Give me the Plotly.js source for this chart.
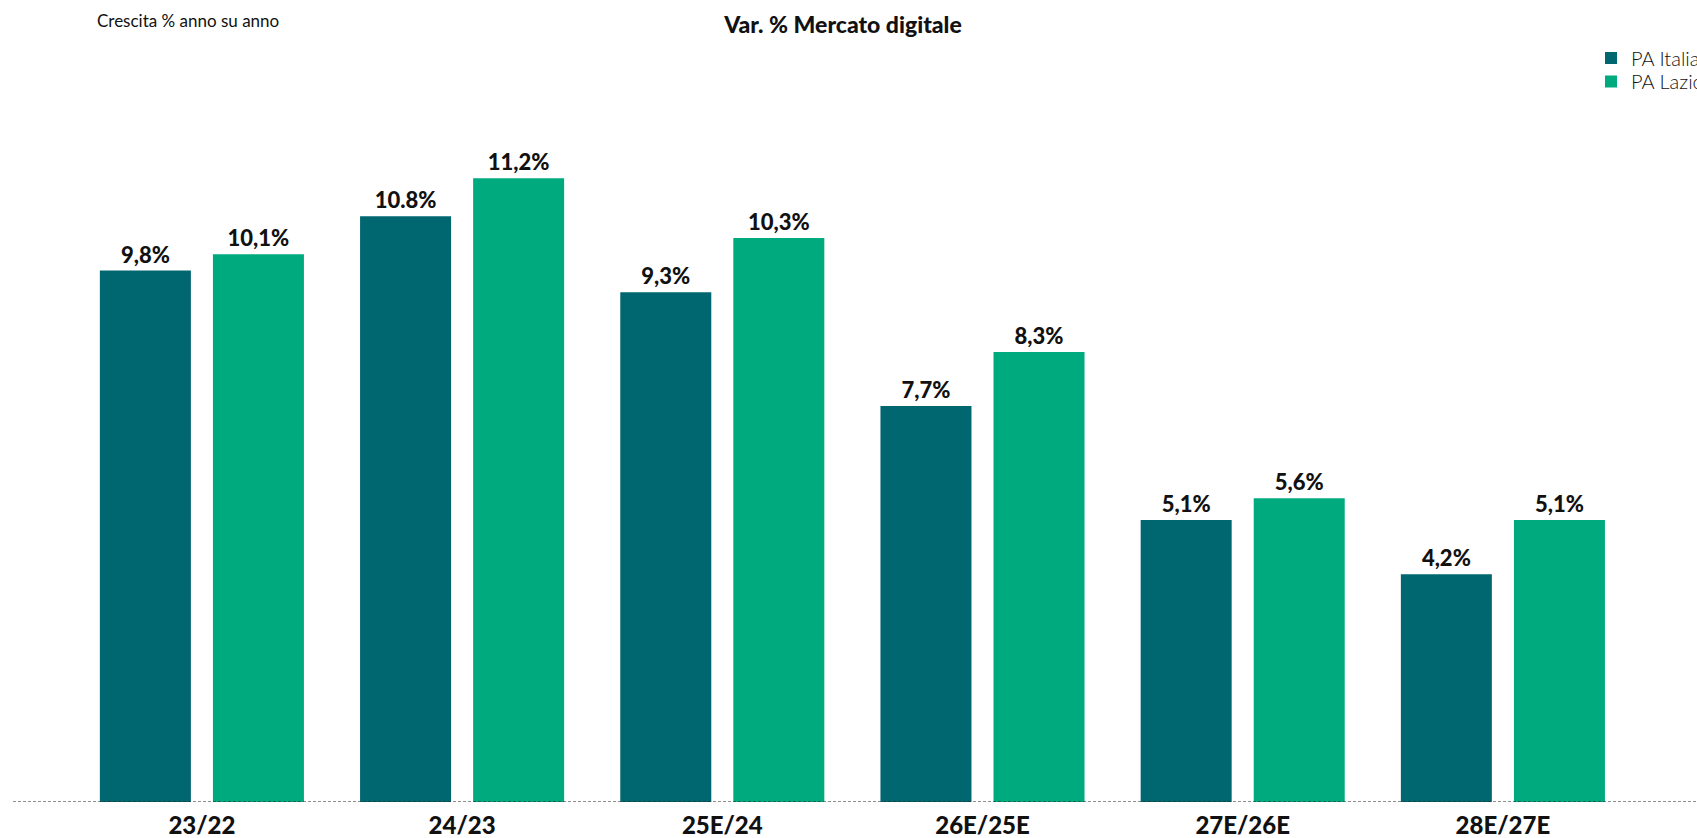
<!DOCTYPE html>
<html>
<head>
<meta charset="utf-8">
<script src="https://cdn.plot.ly/plotly-3.0.1.min.js"></script>
<style>
  html, body { margin: 0; padding: 0; background: #ffffff; overflow: hidden; }
  #chart { width: 1697px; height: 838px; }
</style>
</head>
<body>
<div id="chart"></div>
<script>
const categories = ['23/22', '24/23', '25E/24', '26E/25E', '27E/26E', '28E/27E'];
const paItalia = [9.8, 10.8, 9.4, 7.3, 5.2, 4.2];
const paLazio = [10.1, 11.5, 10.4, 8.3, 5.6, 5.2];
const paItaliaLabels = ['9,8%', '10.8%', '9,3%', '7,7%', '5,1%', '4,2%'];
const paLazioLabels = ['10,1%', '11,2%', '10,3%', '8,3%', '5,6%', '5,1%'];
const seriesNames = ['PA Italia', 'PA Lazio'];
const chartTitle = 'Var. % Mercato digitale';
const subTitle = 'Crescita % anno su anno';

const FONT = 'Lato, "Noto Sans", sans-serif';
const C_ITALIA = '#006670';
const C_LAZIO = '#00AA7F';

const labelFont = { family: FONT, size: 22, color: '#111111', weight: 900 };

const traces = [
  {
    type: 'bar', name: seriesNames[0], x: categories, y: paItalia,
    text: paItaliaLabels, textposition: 'outside', cliponaxis: false,
    textfont: labelFont, marker: { color: C_ITALIA }, legend: 'legend', hoverinfo: 'skip'
  },
  {
    type: 'bar', name: seriesNames[1], x: categories, y: paLazio,
    text: paLazioLabels, textposition: 'outside', cliponaxis: false,
    textfont: labelFont, marker: { color: C_LAZIO }, legend: 'legend2', hoverinfo: 'skip'
  }
];

const legendCommon = {
  xref: 'container', yref: 'container', xanchor: 'left', yanchor: 'middle',
  bgcolor: 'rgba(0,0,0,0)', borderwidth: 0,
  font: { family: FONT, size: 20, color: '#111111', weight: 300 },
  itemclick: false, itemdoubleclick: false
};

const layout = {
  width: 1697, height: 838,
  margin: { l: 13, r: 0, t: 97, b: 36, pad: 0, autoexpand: false },
  paper_bgcolor: '#ffffff', plot_bgcolor: '#ffffff',
  barmode: 'group', bargap: 0.131, bargroupgap: 0.195,
  showlegend: true,
  legend: Object.assign({}, legendCommon, { x: 1591 / 1697, y: 1 - 58 / 838 }),
  legend2: Object.assign({}, legendCommon, { x: 1591 / 1697, y: 1 - 81.5 / 838 }),
  title: {
    text: chartTitle, x: 843 / 1697, xref: 'container', xanchor: 'center',
    y: 1 - 25 / 838, yref: 'container', yanchor: 'middle',
    font: { family: FONT, size: 23, color: '#111111', weight: 900 }
  },
  xaxis: {
    type: 'category', range: [-0.726, 5.746], fixedrange: true,
    showgrid: false, zeroline: false, showline: false, ticks: '',
    ticklabelstandoff: 7,
    tickfont: { family: FONT, size: 24, color: '#111111', weight: 900 }
  },
  yaxis: {
    range: [0, 13.0], fixedrange: true, visible: false,
    showgrid: false, zeroline: false
  },
  shapes: [{
    type: 'line', xref: 'paper', yref: 'y', x0: 0, x1: 1, y0: 0, y1: 0,
    line: { color: '#222222', width: 1.2, dash: '3px,2px' }, layer: 'above'
  }],
  annotations: [{
    text: subTitle, xref: 'paper', yref: 'paper',
    x: (95 - 13) / 1684, y: (802 - 20.6) / 705,
    xanchor: 'left', yanchor: 'middle', showarrow: false,
    font: { family: FONT, size: 17, color: '#111111' }
  }],
  hovermode: false
};

Plotly.newPlot('chart', traces, layout, { displayModeBar: false, staticPlot: true });
</script>
</body>
</html>
